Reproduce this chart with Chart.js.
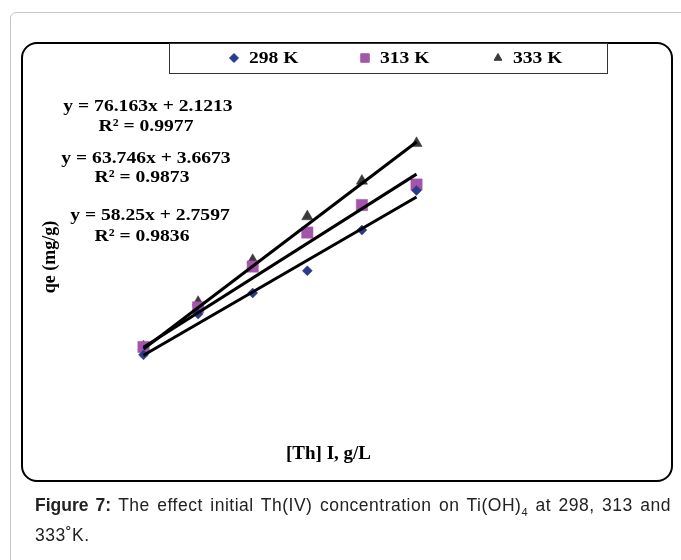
<!DOCTYPE html>
<html>
<head>
<meta charset="utf-8">
<script src="https://cdn.jsdelivr.net/npm/chart.js@4.4.1/dist/chart.umd.min.js"></script>
<style>
  body { margin: 0; background: #fff; }
  #page { position: relative; width: 681px; height: 560px; overflow: hidden; }
  .card { position: absolute; left: 10px; top: 12px; width: 700px; height: 600px;
          border: 1px solid #c8c8c8; border-radius: 6px; }
  .frame { position: absolute; left: 21px; top: 42px; width: 648px; height: 436px;
           border: 2.5px solid #000; border-radius: 16px; }
  #chart { position: absolute; left: 0; top: 0; }
  .caption { position: absolute; left: 35px; top: 494px; width: 636px;
             font-family: "Liberation Sans", Arial, sans-serif; font-size: 17.5px;
             letter-spacing: 0.5px; text-align: justify;
             line-height: 23px; color: #222; }
  .caption b { letter-spacing: 0; }
  .caption sub { font-size: 11px; }
</style>
</head>
<body>
<div id="page">
  <div class="card"></div>
  <div class="frame"></div>
  <canvas id="chart" width="681" height="560"></canvas>
  <div class="caption"><b>Figure 7:</b> The effect initial Th(IV) concentration on Ti(OH)<sub>4</sub> at 298, 313 and 333˚K.</div>
</div>
<script>
// initial concentration, g/L
const conc = [0.1, 0.2, 0.3, 0.4, 0.5, 0.6];
// qe, mg/g
const qe298 = [8.66, 16.16, 20.05, 24.13, 31.61, 38.92];
const qe313 = [10.11, 17.39, 24.91, 31.16, 36.22, 40.00];
const qe333 = [10.16, 18.36, 26.06, 34.11, 40.66, 47.58];
const seriesLabels = ['298 K', '313 K', '333 K'];
// linear fits
const slopes = [58.25, 63.746, 76.163];
const intercepts = [2.7597, 3.6673, 2.1213];
const rSquared = [0.9836, 0.9873, 0.9977];

const serif = '"Liberation Serif", "Times New Roman", serif';
const colors = ['#2b3a8a', '#a455ab', '#3a3a3a'];
const styles = ['rectRot', 'rect', 'triangle'];
const radii = [5, 8, 6.5];
const allSeries = [qe298, qe313, qe333];

// trend lines go first so they are drawn on top of the markers
const trendSets = slopes.map((m, i) => ({
  label: 'fit ' + seriesLabels[i],
  data: [conc[0], conc[conc.length - 1]].map(x => ({ x, y: m * x + intercepts[i] })),
  borderColor: '#000',
  borderWidth: 3,
  pointRadius: 0,
  showLine: true,
  fill: false
}));

const pointSets = allSeries.map((vals, i) => ({
  label: seriesLabels[i],
  data: conc.map((x, j) => ({ x, y: vals[j] })),
  backgroundColor: colors[i],
  borderColor: colors[i],
  borderWidth: 0.5,
  pointStyle: styles[i],
  pointRadius: radii[i],
  showLine: false
}));

// text in the plot is a little wide, as in the original figure
function wideText(c, text, x, y, sx) {
  c.save();
  c.translate(x, y);
  c.scale(sx, 1);
  c.fillText(text, 0, 0);
  c.restore();
}

// centre of each equation line and of its R² line
const eqPos = [[150, 215, 142, 236], [146, 158, 142, 177], [148, 106, 146, 126]];

const extras = {
  id: 'extras',
  afterDraw(chart) {
    const c = chart.ctx;
    c.save();
    // legend box
    c.strokeStyle = '#333';
    c.lineWidth = 1;
    c.strokeRect(169.5, 43.5, 438, 30);
    const legendX = [234, 365, 498];
    c.font = 'bold 17px ' + serif;
    c.textBaseline = 'middle';
    c.textAlign = 'left';
    pointSets.forEach((ds, i) => {
      c.fillStyle = ds.backgroundColor;
      c.strokeStyle = ds.borderColor;
      Chart.helpers.drawPoint(c, { pointStyle: ds.pointStyle, radius: i === 1 ? 6 : 4.5, borderWidth: 0.5 }, legendX[i], 58);
      c.fillStyle = '#000';
      wideText(c, ds.label, legendX[i] + 15, 59, 1.15);
    });
    // fit equations
    c.font = 'bold 17.5px ' + serif;
    c.textAlign = 'center';
    slopes.forEach((m, i) => {
      const [x, y, rx, ry] = eqPos[i];
      wideText(c, `y = ${m}x + ${intercepts[i]}`, x, y, 1.12);
      wideText(c, `R² = ${rSquared[i]}`, rx, ry, 1.12);
    });
    c.restore();
  }
};

const fixSize = s => { if (s.isHorizontal()) s.height = 35; else s.width = 35; };

new Chart(document.getElementById('chart'), {
  type: 'scatter',
  data: { datasets: [...trendSets, ...pointSets] },
  options: {
    responsive: false,
    animation: false,
    layout: { padding: { left: 36, right: 95, top: 80, bottom: 91 } },
    plugins: { legend: { display: false }, tooltip: { enabled: false } },
    scales: {
      x: {
        type: 'linear', min: -0.0328, max: 0.9104,
        afterFit: fixSize,
        grid: { display: false }, border: { display: false },
        ticks: { display: false },
        title: { display: true, text: '[Th] I, g/L', color: '#000',
                 font: { family: serif, size: 19, weight: 'bold' } }
      },
      y: {
        min: -5.90, max: 59.23,
        afterFit: fixSize,
        grid: { display: false }, border: { display: false },
        ticks: { display: false },
        title: { display: true, text: 'qe (mg/g)', color: '#000',
                 font: { family: serif, size: 18, weight: 'bold' } }
      }
    }
  },
  plugins: [extras]
});
</script>
</body>
</html>
